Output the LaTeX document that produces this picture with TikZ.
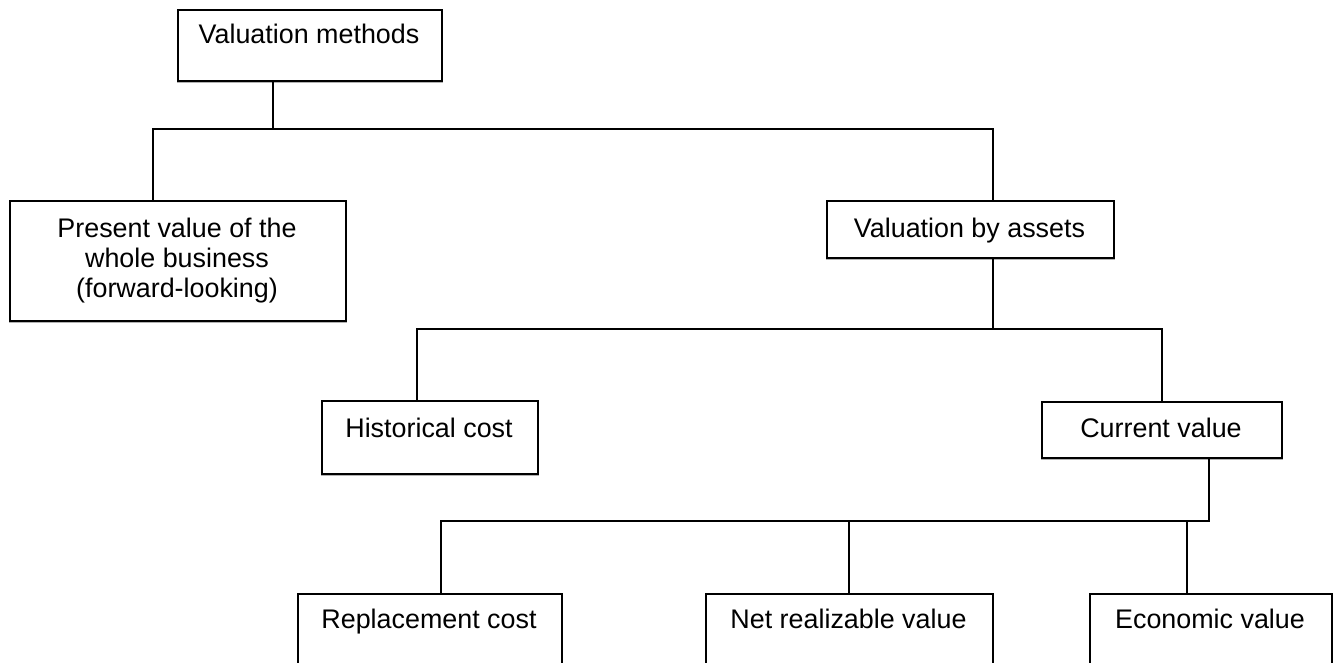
\documentclass[tikz,border=0pt]{standalone}
\usepackage{fontspec}
\setmainfont{Liberation Sans}
\begin{document}
\begin{tikzpicture}[x=0.02cm,y=-0.02cm,
  line width=1.1pt,
  box/.style={draw=black, fill=white, rectangle, inner sep=0pt, anchor=north west},
  txt/.style={inner sep=0pt, anchor=base, font=\fontsize{15.3}{17.07}\selectfont, align=center},
  shadowline/.style={draw=black!30, line width=0.5pt}]
\clip (0,0) rectangle (1334,662);
\fill[white] (0,0) rectangle (1334,662);
% boxes
\node[box, minimum width=5.28cm, minimum height=1.42cm] (vm)  at (177,9) {};
\node[box, minimum width=6.72cm, minimum height=2.40cm] (pv)  at (9,200) {};
\node[box, minimum width=5.74cm, minimum height=1.14cm] (vba) at (826,200) {};
\node[box, minimum width=4.32cm, minimum height=1.46cm] (hc)  at (321,400) {};
\node[box, minimum width=4.80cm, minimum height=1.12cm] (cv)  at (1041,401) {};
\node[box, minimum width=5.28cm, minimum height=2.00cm] (rc)  at (297,593) {};
\node[box, minimum width=5.74cm, minimum height=2.00cm] (nrv) at (705,593) {};
\node[box, minimum width=4.84cm, minimum height=2.00cm] (ev)  at (1089,593) {};
% faint shadow right under the visible bottom edges
\foreach \b in {vm,pv,vba,hc,cv}{
  \draw[shadowline] ([yshift=-0.25pt]\b.south west) -- ([yshift=-0.25pt]\b.south east);
}
% texts
\node[txt] (vmt)  at (309,44)   {Valuation methods};
\node[txt] (pvt1) at (177,237)  {Present value of the};
\node[txt] (pvt2) at (177,267)  {whole business};
\node[txt] (pvt3) at (177,297)  {(forward-looking)};
\node[txt] (vbat) at (969.5,237) {Valuation by assets};
\node[txt] (hct)  at (429,437)  {Historical cost};
\node[txt] (cvt)  at (1161,437) {Current value};
\node[txt] (rct)  at (429,628)  {Replacement cost};
\node[txt] (nrvt) at (848.5,628) {Net realizable value};
\node[txt] (evt)  at (1210,628) {Economic value};
% junction coordinates
\coordinate (t1)  at (273,129);
\coordinate (b1l) at (153,129);
\coordinate (b1r) at (993,129);
\coordinate (b2l) at (417,329);
\coordinate (b2r) at (1162,329);
\coordinate (b3l) at (441,521);
\coordinate (b3m) at (849,521);
\coordinate (b3e) at (1187,521);
\coordinate (b3r) at (1209,521);
% connectors
\draw (t1 |- vm.south) -- (t1);
\draw (b1l |- pv.north) -- (b1l) -- (b1r) -- (b1r |- vba.north);
\draw (b1r |- vba.south) -- (b1r |- b2l);
\draw (b2l |- hc.north) -- (b2l) -- (b2r) -- (b2r |- cv.north);
\draw (b3r |- cv.south) -- (b3r) -- (b3l) -- (b3l |- rc.north);
\draw (b3m) -- (b3m |- nrv.north);
\draw (b3e) -- (b3e |- ev.north);
\end{tikzpicture}
\end{document}
